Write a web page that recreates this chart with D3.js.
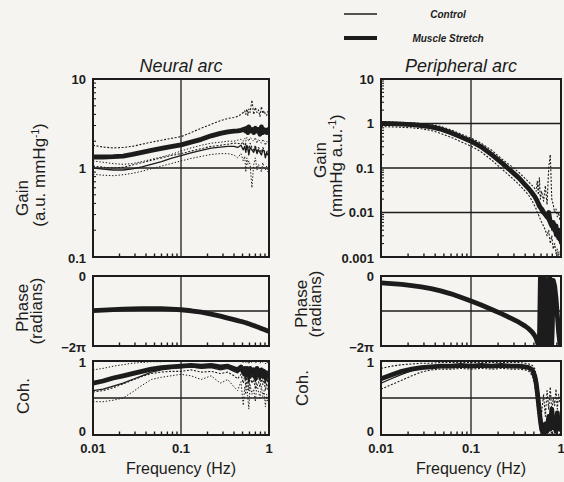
<!DOCTYPE html>
<html>
<head>
<meta charset="utf-8">
<script src="https://cdn.jsdelivr.net/npm/d3@7"></script>
<style>
    body { margin: 0; background: #f5f4f0; }
    svg { display: block; }
    text { font-family: "Liberation Sans", Arial, sans-serif; fill: #1c1c1c; }
</style>
</head>
<body>
<div id="chart"></div>
<script>
// Data
const freqHz = [0.010,0.013,0.017,0.022,0.028,0.036,0.046,0.060,0.077,0.100,
    0.130,0.170,0.220,0.280,0.340,0.400,0.440,0.480,0.510,0.530,
    0.545,0.560,0.575,0.590,0.610,0.640,0.670,0.700,0.730,0.760,
    0.790,0.820,0.850,0.880,0.910,0.940,0.970,1.000];

// Neural arc gain (a.u./mmHg)
const neuralGainMs = [1.33,1.33,1.34,1.36,1.42,1.50,1.58,1.66,1.74,1.82,
    1.95,2.10,2.30,2.45,2.55,2.60,2.62,2.65,2.70,2.75,
    2.60,2.80,2.50,2.90,2.60,2.70,2.50,2.80,2.60,2.70,
    2.40,2.90,2.50,2.70,2.60,2.50,2.70,2.60];
const neuralGainMsHi = [1.80,1.72,1.68,1.70,1.75,1.85,1.95,2.05,2.15,2.25,
    2.50,2.80,3.10,3.40,3.60,3.70,3.80,4.00,4.20,4.40,
    4.00,4.60,3.90,4.60,4.20,5.80,4.00,4.80,4.20,4.50,
    3.80,4.90,4.10,4.40,4.00,3.90,4.30,4.00];
const neuralGainMsLo = [1.05,1.02,1.00,1.02,1.08,1.15,1.22,1.30,1.38,1.45,
    1.55,1.65,1.75,1.80,1.85,1.90,1.90,1.85,1.95,1.70,
    1.90,1.60,1.80,1.50,1.90,1.70,1.60,1.80,1.50,1.70,
    1.60,1.50,1.70,1.60,1.40,1.50,1.60,1.50];
const neuralGainCt = [1.00,0.97,0.95,0.95,0.98,1.03,1.10,1.18,1.28,1.38,
    1.48,1.58,1.67,1.72,1.75,1.75,1.70,1.80,1.60,1.75,
    1.50,1.80,1.65,1.40,1.70,1.60,1.50,1.70,1.45,1.60,
    1.50,1.40,1.60,1.55,1.30,1.50,1.40,1.45];
const neuralGainCtLo = [0.85,0.83,0.82,0.84,0.87,0.92,0.98,1.05,1.12,1.20,
    1.28,1.35,1.42,1.45,1.45,1.40,1.30,1.45,1.20,1.35,
    0.90,1.30,1.10,1.20,1.10,0.60,1.10,1.30,0.95,1.10,
    1.00,0.90,1.15,1.00,0.95,1.05,0.90,1.00];
const neuralGainCtHi = [1.20,1.16,1.12,1.10,1.12,1.18,1.25,1.33,1.42,1.55,
    1.68,1.80,1.90,1.95,2.00,2.00,2.05,2.10,2.00,2.15,
    2.00,2.20,2.10,2.00,2.20,2.10,2.00,2.20,1.90,2.10,
    2.00,1.90,2.10,2.00,1.80,2.00,1.90,1.95];

// Neural arc phase (radians)
const neuralPhaseMs = [-3.10,-3.06,-3.02,-2.98,-2.95,-2.93,-2.92,-2.93,-2.97,-3.03,
    -3.12,-3.25,-3.42,-3.60,-3.78,-3.92,-4.00,-4.08,-4.13,-4.17,
    -4.20,-4.23,-4.26,-4.29,-4.33,-4.39,-4.45,-4.50,-4.56,-4.61,
    -4.66,-4.71,-4.76,-4.80,-4.85,-4.89,-4.93,-4.97];
const neuralPhaseCt = [-3.18,-3.12,-3.08,-3.04,-3.01,-2.99,-2.98,-2.99,-3.02,-3.08,
    -3.17,-3.30,-3.47,-3.66,-3.84,-3.98,-4.07,-4.15,-4.20,-4.24,
    -4.27,-4.31,-4.34,-4.37,-4.41,-4.47,-4.53,-4.58,-4.64,-4.69,
    -4.74,-4.79,-4.84,-4.88,-4.93,-4.97,-5.01,-5.05];

// Neural arc coherence
const neuralCohMs = [0.70,0.73,0.77,0.80,0.83,0.86,0.89,0.91,0.92,0.93,
    0.94,0.93,0.94,0.92,0.93,0.90,0.88,0.92,0.85,0.90,
    0.82,0.90,0.86,0.80,0.90,0.84,0.88,0.78,0.90,0.85,
    0.80,0.88,0.82,0.86,0.78,0.84,0.80,0.82];
const neuralCohMsLo = [0.58,0.60,0.64,0.69,0.74,0.79,0.83,0.85,0.86,0.86,
    0.88,0.85,0.86,0.83,0.85,0.80,0.76,0.82,0.70,0.80,
    0.65,0.78,0.70,0.60,0.80,0.70,0.75,0.62,0.80,0.72,
    0.65,0.78,0.68,0.74,0.60,0.70,0.62,0.66];
const neuralCohCt = [0.60,0.62,0.66,0.70,0.75,0.80,0.85,0.88,0.90,0.91,
    0.92,0.90,0.91,0.88,0.90,0.86,0.84,0.88,0.80,0.86,
    0.75,0.85,0.80,0.70,0.85,0.78,0.82,0.72,0.85,0.80,
    0.74,0.83,0.76,0.80,0.70,0.78,0.72,0.75];
const neuralCohCtLo = [0.45,0.45,0.47,0.50,0.58,0.67,0.75,0.78,0.80,0.82,
    0.80,0.75,0.80,0.70,0.75,0.65,0.60,0.72,0.40,0.65,
    0.55,0.70,0.50,0.35,0.68,0.55,0.62,0.45,0.70,0.58,
    0.50,0.66,0.52,0.60,0.38,0.55,0.45,0.50];
const neuralCohCtHi = [0.88,0.90,0.93,0.95,0.97,0.98,0.99,0.99,1.00,1.00,
    1.00,1.00,1.00,1.00,1.00,1.00,1.00,1.00,0.98,1.00,
    0.97,1.00,0.99,0.96,1.00,0.98,1.00,0.97,1.00,0.99,
    0.97,1.00,0.98,1.00,0.96,0.99,0.97,0.98];

// Peripheral arc gain (mmHg/a.u.)
const periphGainMs = [1.00,0.99,0.97,0.94,0.90,0.84,0.75,0.62,0.50,0.40,
    0.30,0.20,0.13,0.085,0.060,0.042,0.034,0.027,0.023,0.020,
    0.018,0.016,0.014,0.013,0.012,0.010,0.009,0.008,0.010,0.006,
    0.005,0.006,0.004,0.005,0.003,0.004,0.0025,0.003];
const periphGainCt = [0.95,0.94,0.92,0.90,0.86,0.80,0.70,0.58,0.47,0.37,
    0.28,0.19,0.12,0.080,0.056,0.040,0.032,0.025,0.021,0.018,
    0.016,0.015,0.013,0.011,0.010,0.009,0.008,0.007,0.006,0.008,
    0.004,0.005,0.003,0.004,0.0025,0.003,0.002,0.0025];
const periphGainHi = [1.10,1.08,1.06,1.04,1.00,0.95,0.86,0.72,0.58,0.47,
    0.36,0.25,0.16,0.11,0.080,0.058,0.048,0.040,0.035,0.030,
    0.050,0.025,0.060,0.020,0.030,0.018,0.040,0.015,0.100,0.200,
    0.020,0.015,0.010,0.012,0.008,0.010,0.007,0.008];
const periphGainLo = [0.85,0.84,0.82,0.80,0.76,0.70,0.60,0.49,0.39,0.31,
    0.23,0.15,0.095,0.062,0.043,0.030,0.024,0.018,0.014,0.012,
    0.010,0.009,0.008,0.007,0.006,0.005,0.004,0.003,0.004,0.002,
    0.003,0.0015,0.002,0.0012,0.0015,0.0011,0.0013,0.0012];

// Peripheral arc phase (radians)
const periphPhaseMs = [-0.62,-0.68,-0.76,-0.86,-0.98,-1.14,-1.34,-1.60,-1.90,-2.25,
    -2.60,-3.00,-3.40,-3.80,-4.15,-4.50,-4.75,-5.05,-5.35,-5.60,
    -5.90,-6.20,-6.25,-0.20,-6.20,-0.15,-6.25,-0.30,-6.20,-0.25,
    -6.10,-0.40,-0.90,-2.00,-3.50,-5.00,-6.00,-6.20];
const periphPhaseCt = [-0.58,-0.64,-0.72,-0.82,-0.94,-1.10,-1.30,-1.56,-1.86,-2.20,
    -2.56,-2.95,-3.35,-3.75,-4.10,-4.45,-4.70,-5.00,-5.30,-5.55,
    -5.85,-6.15,-0.10,-6.25,-0.30,-6.20,-0.20,-6.25,-0.10,-6.20,
    -0.35,-6.15,-0.60,-1.50,-3.00,-4.50,-5.80,-6.25];

// Peripheral arc coherence
const periphCohMs = [0.76,0.81,0.86,0.89,0.91,0.92,0.93,0.93,0.94,0.93,
    0.94,0.93,0.94,0.93,0.93,0.92,0.91,0.88,0.80,0.70,
    0.58,0.45,0.32,0.20,0.08,0.03,0.15,0.05,0.25,0.08,
    0.35,0.10,0.20,0.05,0.30,0.10,0.18,0.06];
const periphCohCt = [0.70,0.76,0.82,0.87,0.90,0.91,0.92,0.92,0.93,0.92,
    0.93,0.92,0.93,0.92,0.92,0.91,0.90,0.86,0.76,0.64,
    0.50,0.38,0.25,0.12,0.05,0.10,0.02,0.20,0.05,0.30,
    0.08,0.22,0.04,0.15,0.02,0.25,0.05,0.12];
const periphCohLo = [0.62,0.68,0.74,0.80,0.85,0.88,0.89,0.89,0.90,0.89,
    0.90,0.89,0.90,0.89,0.89,0.88,0.86,0.80,0.68,0.55,
    0.40,0.28,0.15,0.05,0.02,0.00,0.03,0.00,0.02,0.00,
    0.05,0.01,0.02,0.00,0.03,0.00,0.02,0.01];
const periphCohHi = [0.90,0.93,0.95,0.96,0.97,0.97,0.98,0.98,0.98,0.98,
    0.98,0.98,0.98,0.98,0.98,0.97,0.96,0.94,0.90,0.82,
    0.72,0.60,0.50,0.40,0.30,0.55,0.25,0.60,0.35,0.65,
    0.30,0.50,0.40,0.62,0.35,0.55,0.45,0.50];

// Tick labels
const freqTicks = [0.01, 0.1, 1];
const freqTickLabels = ['0.01', '0.1', '1'];
const neuralGainTicks = [10, 1, 0.1];
const periphGainTicks = [10, 1, 0.1, 0.01, 0.001];
const gainTickLabels = { 10: '10', 1: '1', 0.1: '0.1', 0.01: '0.01', 0.001: '0.001' };

// Dimensions
const dimensions = { width: 564, height: 482 };
const ink = '#1c1c1c';

const cols = {
    neural: { left: 93, right: 269 },
    periph: { left: 381, right: 561 },
};
const rows = {
    gain: { top: 79, bottom: 257 },
    phase: { top: 276, bottom: 346 },
    coh: { top: 361, bottom: 435 },
};

const styles = {
    ms: { width: 4.8, dash: null },
    msSD: { width: 1.1, dash: '2,1.6' },
    ct: { width: 1.3, dash: null },
    ctSD: { width: 1, dash: '1.4,1.8' },
};

const svg = d3
    .select('#chart')
    .append('svg')
    .attr('width', dimensions.width)
    .attr('height', dimensions.height)
    ;

svg.append('rect')
    .attr('width', dimensions.width)
    .attr('height', dimensions.height)
    .attr('fill', '#f5f4f0');

const defs = svg.append('defs');

function drawPanel(p) {
    const col = cols[p.col];
    const row = rows[p.row];

    const xScale = d3.scaleLog()
        .domain([0.01, 1])
        .range([col.left, col.right]);

    const yScale = (p.log ? d3.scaleLog() : d3.scaleLinear())
        .domain(p.domain)
        .range([row.bottom, row.top]);

    const clipId = `clip-${p.col}-${p.row}`;
    defs.append('clipPath')
        .attr('id', clipId)
        .append('rect')
        .attr('x', col.left)
        .attr('y', row.top)
        .attr('width', col.right - col.left)
        .attr('height', row.bottom - row.top);

    const g = svg.append('g');

    // grid
    g.append('line')
        .attr('x1', xScale(0.1)).attr('x2', xScale(0.1))
        .attr('y1', row.top).attr('y2', row.bottom)
        .attr('stroke', ink).attr('stroke-width', 1.3);

    g.selectAll('.hgrid')
        .data(p.grid)
        .join('line')
        .attr('x1', col.left).attr('x2', col.right)
        .attr('y1', d => yScale(d)).attr('y2', d => yScale(d))
        .attr('stroke', ink).attr('stroke-width', 1.3);

    // minor ticks, bottom edge
    const minorX = xScale.ticks().filter(d => ![0.01, 0.1, 1].some(v => Math.abs(v - d) < 1e-9));
    g.selectAll('.xminor')
        .data(minorX)
        .join('line')
        .attr('x1', d => xScale(d)).attr('x2', d => xScale(d))
        .attr('y1', row.bottom).attr('y2', row.bottom - 3.5)
        .attr('stroke', ink).attr('stroke-width', 1.4);

    // minor ticks, left edge (gain only)
    if (p.log) {
        const minorY = yScale.ticks().filter(d => {
            const l = Math.log10(d);
            return Math.abs(l - Math.round(l)) > 1e-6;
        });
        g.selectAll('.yminor')
            .data(minorY)
            .join('line')
            .attr('x1', col.left).attr('x2', col.left + 3)
            .attr('y1', d => yScale(d)).attr('y2', d => yScale(d))
            .attr('stroke', ink).attr('stroke-width', 1.1);
    }

    // series
    const line = d3.line()
        .x((d, i) => xScale(freqHz[i]))
        .y(d => yScale(d));

    g.append('g')
        .attr('clip-path', `url(#${clipId})`)
        .selectAll('path')
        .data(p.series)
        .join('path')
        .attr('d', d => line(d.values))
        .attr('fill', 'none')
        .attr('stroke', ink)
        .attr('stroke-linejoin', 'round')
        .attr('stroke-width', d => styles[d.style].width)
        .attr('stroke-dasharray', d => styles[d.style].dash)
        ;

    // frame
    g.append('rect')
        .attr('x', col.left).attr('y', row.top)
        .attr('width', col.right - col.left)
        .attr('height', row.bottom - row.top)
        .attr('fill', 'none')
        .attr('stroke', ink)
        .attr('stroke-width', 2);

    // y tick labels
    g.selectAll('.ylab')
        .data(p.yTicks)
        .join('text')
        .attr('x', col.left - 7)
        .attr('y', d => yScale(d.v) + d.dy)
        .attr('text-anchor', 'end')
        .attr('dominant-baseline', 'central')
        .style('font-size', '13px')
        .style('font-weight', 'bold')
        .text(d => d.label);

    // x tick labels under coherence rows
    if (p.row === 'coh') {
        g.selectAll('.xlab')
            .data(freqTicks)
            .join('text')
            .attr('x', d => xScale(d))
            .attr('y', row.bottom + 18)
            .attr('text-anchor', 'middle')
            .style('font-size', '13px')
            .style('font-weight', 'bold')
            .text((d, i) => freqTickLabels[i]);

        g.append('text')
            .attr('x', (col.left + col.right) / 2)
            .attr('y', row.bottom + 39)
            .attr('text-anchor', 'middle')
            .style('font-size', '16px')
            .text('Frequency (Hz)');
    }

    // y axis titles
    p.titles.forEach(t => {
        const txt = g.append('text')
            .attr('transform', `translate(${t.x}, ${t.y}) rotate(-90)`)
            .attr('text-anchor', 'middle')
            .style('font-size', '17px');
        if (t.sup) {
            txt.append('tspan').text(t.text);
            txt.append('tspan').attr('dy', -6).style('font-size', '10px').text(t.sup);
            txt.append('tspan').attr('dy', 6).text(')');
        } else {
            txt.text(t.text);
        }
    });
}

const panels = [
    {
        col: 'neural', row: 'gain', log: true, domain: [0.1, 10], grid: [1],
        yTicks: neuralGainTicks.map((v, i) => ({ v, label: gainTickLabels[v], dy: i === 2 ? 1 : 0 })),
        titles: [
            { text: 'Gain', x: 28, y: 198 },
            { text: '(a.u. mmHg', sup: '-1', x: 45, y: 175 },
        ],
        series: [
            { values: neuralGainMsHi, style: 'msSD' },
            { values: neuralGainMsLo, style: 'msSD' },
            { values: neuralGainCtHi, style: 'ctSD' },
            { values: neuralGainCtLo, style: 'ctSD' },
            { values: neuralGainCt, style: 'ct' },
            { values: neuralGainMs, style: 'ms' },
        ],
    },
    {
        col: 'neural', row: 'phase', log: false, domain: [-2 * Math.PI, 0], grid: [-Math.PI],
        yTicks: [{ v: 0, label: '0', dy: 0 }, { v: -2 * Math.PI, label: '\u22122\u03c0', dy: 1 }],
        titles: [
            { text: 'Phase', x: 28, y: 308 },
            { text: '(radians)', x: 42, y: 311 },
        ],
        series: [
            { values: neuralPhaseCt, style: 'ct' },
            { values: neuralPhaseMs, style: 'ms' },
        ],
    },
    {
        col: 'neural', row: 'coh', log: false, domain: [0, 1], grid: [0.5],
        yTicks: [{ v: 1, label: '1', dy: 1 }, { v: 0, label: '0', dy: -4 }],
        titles: [{ text: 'Coh.', x: 29, y: 396 }],
        series: [
            { values: neuralCohCtHi, style: 'ctSD' },
            { values: neuralCohCtLo, style: 'ctSD' },
            { values: neuralCohMsLo, style: 'msSD' },
            { values: neuralCohCt, style: 'ct' },
            { values: neuralCohMs, style: 'ms' },
        ],
    },
    {
        col: 'periph', row: 'gain', log: true, domain: [0.001, 10], grid: [1, 0.1, 0.01],
        yTicks: periphGainTicks.map((v, i) => ({ v, label: gainTickLabels[v], dy: i === 4 ? 1 : 0 })),
        titles: [
            { text: 'Gain', x: 326, y: 160 },
            { text: '(mmHg a.u.', sup: '-1', x: 342, y: 166 },
        ],
        series: [
            { values: periphGainHi, style: 'msSD' },
            { values: periphGainLo, style: 'msSD' },
            { values: periphGainCt, style: 'ct' },
            { values: periphGainMs, style: 'ms' },
        ],
    },
    {
        col: 'periph', row: 'phase', log: false, domain: [-2 * Math.PI, 0], grid: [-Math.PI],
        yTicks: [{ v: 0, label: '0', dy: 0 }, { v: -2 * Math.PI, label: '\u22122\u03c0', dy: 1 }],
        titles: [
            { text: 'Phase', x: 307, y: 304 },
            { text: '(radians)', x: 321, y: 304 },
        ],
        series: [
            { values: periphPhaseCt, style: 'ct' },
            { values: periphPhaseMs, style: 'ms' },
        ],
    },
    {
        col: 'periph', row: 'coh', log: false, domain: [0, 1], grid: [0.5],
        yTicks: [{ v: 1, label: '1', dy: 1 }, { v: 0, label: '0', dy: -4 }],
        titles: [{ text: 'Coh.', x: 308, y: 388 }],
        series: [
            { values: periphCohHi, style: 'msSD' },
            { values: periphCohLo, style: 'msSD' },
            { values: periphCohCt, style: 'ct' },
            { values: periphCohMs, style: 'ms' },
        ],
    },
];

panels.forEach(drawPanel);

// Column titles
svg.append('text')
    .attr('x', (cols.neural.left + cols.neural.right) / 2)
    .attr('y', 72)
    .attr('text-anchor', 'middle')
    .style('font-size', '18px')
    .style('font-style', 'italic')
    .text('Neural arc');

svg.append('text')
    .attr('x', (cols.periph.left + cols.periph.right) / 2 - 10)
    .attr('y', 72)
    .attr('text-anchor', 'middle')
    .style('font-size', '18px')
    .style('font-style', 'italic')
    .text('Peripheral arc');

// Legend
const legendItems = [
    { label: 'Control', style: 'ct', y: 14 },
    { label: 'Muscle Stretch', style: 'ms', y: 38 },
];
const legend = svg.append('g');
legend.selectAll('line')
    .data(legendItems)
    .join('line')
    .attr('x1', 344).attr('x2', 377)
    .attr('y1', d => d.y).attr('y2', d => d.y)
    .attr('stroke', ink)
    .attr('stroke-width', d => d.style === 'ms' ? 4 : 1.5);
legend.selectAll('text')
    .data(legendItems)
    .join('text')
    .attr('x', 448)
    .attr('y', d => d.y)
    .attr('text-anchor', 'middle')
    .attr('dominant-baseline', 'central')
    .style('font-size', '10px')
    .style('font-style', 'italic')
    .style('font-weight', 'bold')
    .text(d => d.label);
</script>
</body>
</html>
